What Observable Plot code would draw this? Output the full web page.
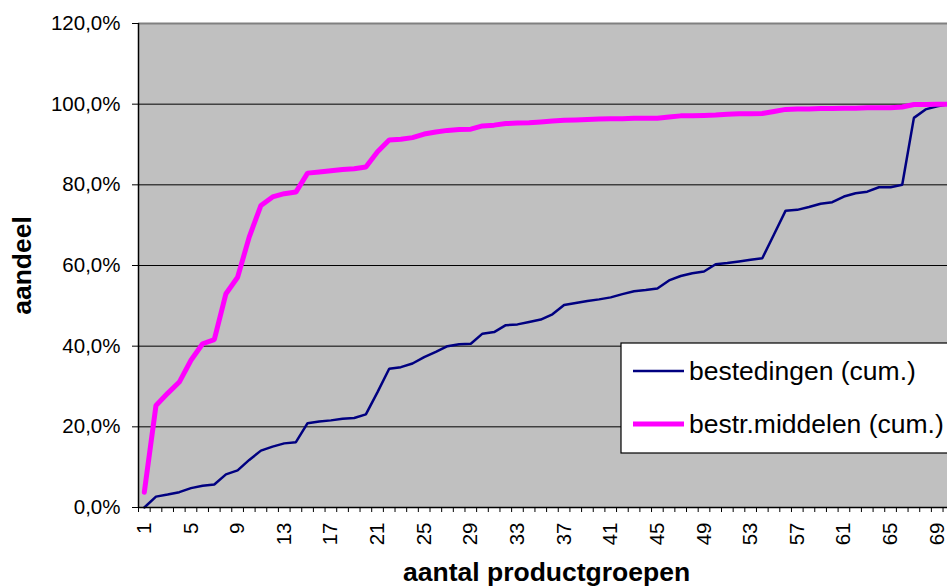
<!DOCTYPE html>
<html>
<head>
<meta charset="utf-8">
<script src="https://cdn.jsdelivr.net/npm/d3@7"></script>
<script src="https://cdn.jsdelivr.net/npm/@observablehq/plot@0.6"></script>
<style>
  html, body { margin: 0; padding: 0; background: #fff; overflow: hidden; }
  #chart { width: 947px; height: 586px; overflow: hidden; }
</style>
</head>
<body>
<div id="chart"></div>
<script>
// ---- data ----
const categories = [1,2,3,4,5,6,7,8,9,10,11,12,13,14,15,16,17,18,19,20,
  21,22,23,24,25,26,27,28,29,30,31,32,33,34,35,36,37,38,39,40,
  41,42,43,44,45,46,47,48,49,50,51,52,53,54,55,56,57,58,59,60,
  61,62,63,64,65,66,67,68,69,70];

const bestedingen = [0.0,2.7,3.2,3.8,4.8,5.4,5.7,8.2,9.2,11.8,
  14.1,15.1,15.9,16.2,20.9,21.3,21.6,22.0,22.2,23.1,
  28.6,34.4,34.8,35.7,37.3,38.6,40.0,40.5,40.6,43.1,
  43.5,45.2,45.4,46.0,46.6,47.9,50.2,50.7,51.2,51.6,
  52.1,52.9,53.6,53.9,54.3,56.3,57.4,58.1,58.5,60.3,
  60.6,61.0,61.4,61.8,67.7,73.6,73.8,74.5,75.3,75.7,
  77.1,77.9,78.3,79.4,79.4,80.0,96.6,98.7,99.5,100.0];

const bestrMiddelen = [3.8,25.3,28.3,31.1,36.5,40.6,41.6,53.0,57.1,67.1,
  74.9,77.0,77.8,78.2,82.9,83.2,83.5,83.8,84.0,84.4,
  88.2,91.1,91.3,91.7,92.6,93.1,93.5,93.7,93.8,94.6,
  94.8,95.2,95.3,95.4,95.6,95.8,96.0,96.1,96.2,96.3,
  96.4,96.4,96.5,96.5,96.5,96.8,97.1,97.1,97.2,97.3,
  97.5,97.6,97.6,97.7,98.2,98.7,98.8,98.8,98.9,98.9,
  99.0,99.0,99.1,99.1,99.1,99.3,99.9,99.9,100.0,100.0];

const seriesNames = ["bestedingen (cum.)", "bestr.middelen (cum.)"];
const seriesColors = ["#000080", "#ff00ff"];
const seriesWidths = [2.5, 5];

const yTicks = [0, 20, 40, 60, 80, 100, 120];
const xTickLabels = [1,5,9,13,17,21,25,29,33,37,41,45,49,53,57,61,65,69];
const xTitle = "aantal productgroepen";
const yTitle = "aandeel";

// ---- build ----
const rowsA = categories.map((c, i) => ({c, v: bestedingen[i]}));
const rowsB = categories.map((c, i) => ({c, v: bestrMiddelen[i]}));
const boundaries = [0].concat(categories).map(c => c + 0.5);
const nCat = categories.length;
const catWidth = 11.66;

const font = "'Liberation Sans', Arial, sans-serif";

const plot = Plot.plot({
  width: 947,
  height: 586,
  marginLeft: 138,
  marginRight: 0,
  marginTop: 23,
  marginBottom: 79,
  style: {fontFamily: font, fontSize: "20px", background: "#fff", color: "#000", overflow: "hidden"},
  x: {type: "linear", domain: [0.5, nCat + 0.5], range: [138, 138 + nCat * catWidth]},
  y: {domain: [0, 120]},
  marks: [
    Plot.frame({fill: "#c0c0c0", stroke: null}),
    Plot.ruleY(yTicks.filter(d => d > 0 && d < 120), {stroke: "#000", strokeWidth: 1}),
    Plot.ruleY([120], {stroke: "#808080", strokeWidth: 2}),
    Plot.line(rowsA, {x: "c", y: "v", stroke: seriesColors[0], strokeWidth: seriesWidths[0], strokeLinejoin: "miter"}),
    Plot.line(rowsB, {x: "c", y: "v", stroke: seriesColors[1], strokeWidth: seriesWidths[1], strokeLinejoin: "miter"}),
    Plot.ruleX([0.5], {stroke: "#000", strokeWidth: 1.5}),
    Plot.ruleY([0], {stroke: "#000", strokeWidth: 1.5}),
    Plot.axisY({ticks: yTicks, tickFormat: d => d.toFixed(1).replace(".", ",") + "%", tickSize: 6, tickPadding: 12, label: null, fontSize: 20.5}),
    Plot.axisX({ticks: boundaries, tickFormat: () => "", tickSize: 5, label: null}),
    Plot.axisX({ticks: xTickLabels, tickSize: 0, tickPadding: 15, tickRotate: -90, label: null, fontSize: 20.5}),
    Plot.text([xTitle], {x: [(nCat + 1) / 2], frameAnchor: "bottom", dy: 65, text: d => d, fontSize: 26.5, fontWeight: "bold", textAnchor: "middle", lineAnchor: "middle"}),
    Plot.text([yTitle], {frameAnchor: "left", dx: -115.5, text: d => d, fontSize: 26.5, fontWeight: "bold", rotate: -90, textAnchor: "middle", lineAnchor: "middle"})
  ]
});

document.getElementById("chart").appendChild(plot);

// ---- legend ----
const svg = d3.select(plot);
const lg = svg.append("g").attr("font-family", font).attr("font-size", 26.5).attr("text-anchor", "start");
lg.append("rect").attr("x", 621).attr("y", 343).attr("width", 400).attr("height", 110)
  .attr("fill", "#fff").attr("stroke", "#000").attr("stroke-width", 1.2);
const legendY = [371, 424];
seriesNames.forEach((name, i) => {
  lg.append("line").attr("x1", 633).attr("x2", 684).attr("y1", legendY[i]).attr("y2", legendY[i])
    .attr("stroke", seriesColors[i]).attr("stroke-width", seriesWidths[i]);
  lg.append("text").attr("x", 689).attr("y", legendY[i] + 8.5).attr("fill", "#000")
    .attr("text-anchor", "start").text(name);
});
</script>
</body>
</html>
